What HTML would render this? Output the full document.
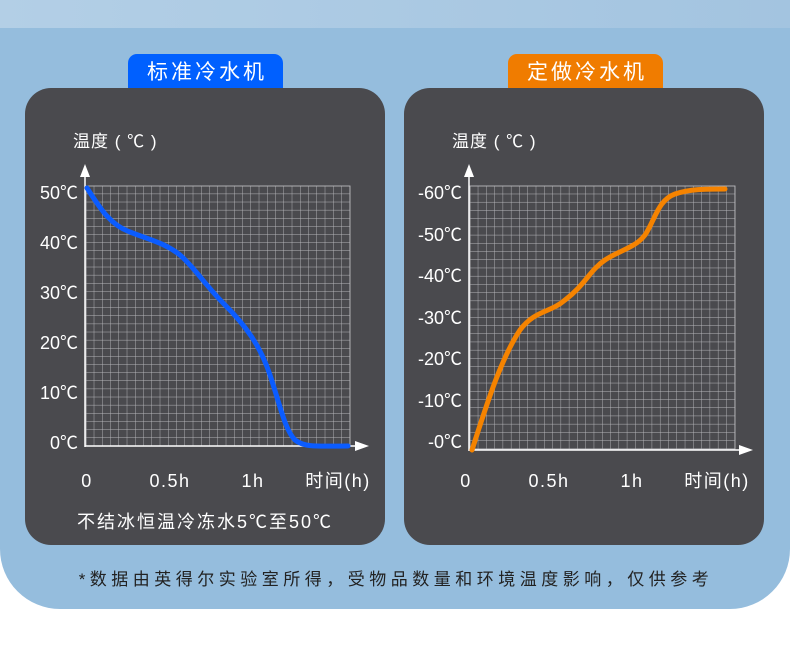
<!DOCTYPE html>
<html><head><meta charset="utf-8"><style>
body{margin:0;width:790px;height:649px;background:#fff;overflow:hidden;font-family:"Liberation Sans","Noto Sans CJK SC",sans-serif;}
.bg{position:absolute;left:0;top:0;width:790px;height:609px;background:#95bddd;border-radius:0 0 60px 60px;}
.strip{position:absolute;left:0;top:0;width:790px;height:28px;background:linear-gradient(90deg,#b3cfe6,#a3c4e0);}
svg{position:absolute;left:0;top:0;}
</style></head><body>
<div class="bg"></div><div class="strip"></div>
<svg width="790" height="649" font-family="Liberation Sans, Noto Sans CJK SC, sans-serif">
<defs>
<pattern id="g" x="86" y="186" width="8.25" height="8.125" patternUnits="userSpaceOnUse"><path d="M8.25 0V8.125M0 8.125H8.25" stroke="#b8b8bc" stroke-width="0.9" fill="none"/></pattern>
<pattern id="g2" x="470" y="186" width="8.28" height="8.22" patternUnits="userSpaceOnUse"><path d="M8.28 0V8.22M0 8.22H8.28" stroke="#b8b8bc" stroke-width="0.9" fill="none"/></pattern>
</defs>
<rect x="25" y="88" width="360" height="457" rx="26" fill="#4a4a4e"/>
<rect x="404" y="88" width="360" height="457" rx="26" fill="#4a4a4e"/>
<rect x="128" y="54" width="155" height="34" rx="9" fill="#0060ff"/>
<rect x="128" y="75" width="155" height="13" fill="#0060ff"/>
<text x="207" y="79" fill="#fff" font-size="21" text-anchor="middle" letter-spacing="3">标准冷水机</text>
<rect x="508" y="54" width="155" height="34" rx="9" fill="#f07c00"/>
<rect x="508" y="75" width="155" height="13" fill="#f07c00"/>
<text x="587" y="79" fill="#fff" font-size="21" text-anchor="middle" letter-spacing="3">定做冷水机</text>

<!-- left chart -->
<rect x="86" y="186" width="264" height="260" fill="url(#g)"/>
<rect x="86" y="186" width="264" height="260" fill="none" stroke="#b8b8bc" stroke-width="0.9"/>
<text x="73" y="147" fill="#fff" font-size="17" letter-spacing="1">温度 ( ℃ )</text>
<line x1="85" y1="172" x2="85" y2="447" stroke="#fff" stroke-width="1.5"/>
<polygon points="85,164 80,177 90,177" fill="#fff"/>
<line x1="85" y1="446" x2="358" y2="446" stroke="#fff" stroke-width="1.5"/>
<polygon points="369,446 355,441 355,451" fill="#fff"/>
<g fill="#fff" font-size="18" text-anchor="end">
<text x="78" y="199">50℃</text><text x="78" y="249">40℃</text><text x="78" y="299">30℃</text>
<text x="78" y="349">20℃</text><text x="78" y="399">10℃</text><text x="78" y="449">0℃</text></g>
<g fill="#fff" font-size="18" text-anchor="middle" letter-spacing="1.5">
<text x="87" y="487">0</text><text x="170" y="487">0.5h</text><text x="253" y="487">1h</text><text x="338" y="487">时间(h)</text></g>
<text x="205" y="528" fill="#fff" font-size="18" text-anchor="middle" letter-spacing="2">不结冰恒温冷冻水5℃至50℃</text>
<path d="M87,188 C100,208 110,225 130,232 C150,240 165,243 180,255 C195,268 205,285 225,305 C245,325 260,345 270,375 C280,405 285,430 295,440 C305,448 320,446 348,446" fill="none" stroke="#0b5cff" stroke-width="5" stroke-linecap="round"/>

<!-- right chart -->
<rect x="470" y="186" width="265" height="263" fill="url(#g2)"/>
<rect x="470" y="186" width="265" height="263" fill="none" stroke="#b8b8bc" stroke-width="0.9"/>
<text x="452" y="147" fill="#fff" font-size="17" letter-spacing="1">温度 ( ℃ )</text>
<line x1="469" y1="172" x2="469" y2="451" stroke="#fff" stroke-width="1.5"/>
<polygon points="469,164 464,177 474,177" fill="#fff"/>
<line x1="469" y1="450" x2="742" y2="450" stroke="#fff" stroke-width="1.5"/>
<polygon points="753,450 739,445 739,455" fill="#fff"/>
<g fill="#fff" font-size="18" text-anchor="end">
<text x="462" y="199">-60℃</text><text x="462" y="241">-50℃</text><text x="462" y="282">-40℃</text>
<text x="462" y="324">-30℃</text><text x="462" y="365">-20℃</text><text x="462" y="407">-10℃</text><text x="462" y="448">-0℃</text></g>
<g fill="#fff" font-size="18" text-anchor="middle" letter-spacing="1.5">
<text x="466" y="487">0</text><text x="549" y="487">0.5h</text><text x="632" y="487">1h</text><text x="717" y="487">时间(h)</text></g>
<path d="M472,450 C485,410 500,360 520,330 C535,310 550,313 565,300 C585,285 590,270 605,260 C620,250 635,248 645,235 C655,220 658,200 675,194 C690,189 705,189 725,189" fill="none" stroke="#f58300" stroke-width="5" stroke-linecap="round"/>

<text x="396" y="585" fill="#222" font-size="17" text-anchor="middle" letter-spacing="4.5">*数据由英得尔实验室所得，受物品数量和环境温度影响，仅供参考</text>
</svg>
</body></html>
